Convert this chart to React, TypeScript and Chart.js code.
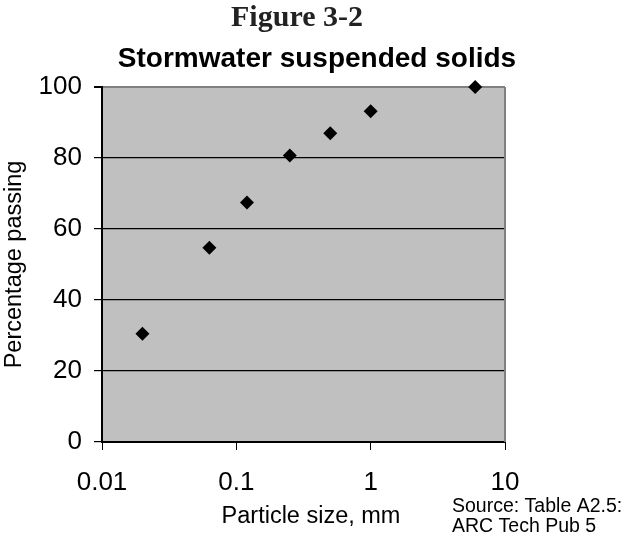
import React, { useEffect, useRef } from "react";
import { Chart, registerables } from "chart.js";

Chart.register(...registerables);

const figureLabel = "Figure 3-2";
const chartTitle = "Stormwater suspended solids";
const xAxisTitle = "Particle size, mm";
const yAxisTitle = "Percentage passing";
const sourceLines = ["Source: Table A2.5:", "ARC Tech Pub 5"];

const particleSizes = [0.02, 0.063, 0.12, 0.25, 0.5, 1, 6];
const percentPassing = [30.5, 54.7, 67.5, 80.7, 87, 93.2, 100];

const xTickValues = [0.01, 0.1, 1, 10];
const yTickValues = [0, 20, 40, 60, 80, 100];

const SANS = "'Liberation Sans', Arial, sans-serif";
const SERIF = "'Liberation Serif', 'Times New Roman', serif";

const decorPlugin = {
  id: "decor",
  beforeDraw(chart: any) {
    const { ctx, chartArea: a } = chart;
    ctx.save();
    ctx.fillStyle = "#ffffff";
    ctx.fillRect(0, 0, chart.width, chart.height);
    ctx.fillStyle = "#c0c0c0";
    ctx.fillRect(a.left, a.top, a.right - a.left, a.bottom - a.top);
    ctx.restore();
  },
  beforeDatasetsDraw(chart: any) {
    const { ctx, chartArea: a } = chart;
    ctx.save();
    ctx.strokeStyle = "#808080";
    ctx.lineWidth = 2;
    ctx.beginPath();
    ctx.moveTo(a.right, a.top);
    ctx.lineTo(a.right, a.bottom);
    ctx.stroke();
    ctx.restore();
  },
  afterDraw(chart: any) {
    const { ctx } = chart;
    ctx.save();
    ctx.fillStyle = "#222";
    ctx.textAlign = "center";
    ctx.textBaseline = "middle";
    ctx.font = `bold 30px ${SERIF}`;
    ctx.fillText(figureLabel, 297, 18);
    ctx.fillStyle = "#000";
    ctx.font = `bold 28px ${SANS}`;
    ctx.fillText(chartTitle, 317, 59);
    ctx.font = `23.5px ${SANS}`;
    ctx.fillText(xAxisTitle, 311, 517);
    ctx.font = `19.5px ${SANS}`;
    ctx.textAlign = "left";
    ctx.fillText(sourceLines[0], 452, 507);
    ctx.fillText(sourceLines[1], 452, 527);
    ctx.restore();
  },
};

export default function App() {
  const canvasRef = useRef<HTMLCanvasElement | null>(null);

  useEffect(() => {
    const canvas = canvasRef.current;
    if (!canvas) return;
    const chart = new Chart(canvas, {
      type: "scatter",
      data: {
        datasets: [
          {
            label: "Percentage passing",
            data: particleSizes.map((x, i) => ({ x, y: percentPassing[i] })),
            pointStyle: "rectRot",
            pointRadius: 7,
            pointBackgroundColor: "#000",
            pointBorderColor: "#000",
            pointBorderWidth: 0,
            showLine: false,
            clip: false as any,
          },
        ],
      },
      options: {
        animation: false,
        responsive: false,
        maintainAspectRatio: false,
        events: [],
        layout: { padding: { top: 87, right: 119, left: 0, bottom: 0 } },
        plugins: {
          legend: { display: false },
          tooltip: { enabled: false },
          title: { display: false },
        },
        scales: {
          x: {
            type: "logarithmic",
            min: 0.01,
            max: 10,
            afterBuildTicks(scale: any) {
              scale.ticks = xTickValues.map((v) => ({ value: v }));
            },
            afterFit(scale: any) {
              scale.height = 94;
            },
            ticks: {
              autoSkip: false,
              maxRotation: 0,
              color: "#000",
              padding: 17,
              font: { family: SANS, size: 26 },
              callback: (v: any) => String(v),
            },
            grid: {
              drawOnChartArea: false,
              drawTicks: true,
              tickLength: 8,
              color: "#000",
              tickColor: "#000",
            },
            border: { display: true, color: "#000", width: 2 },
            title: { display: false },
          },
          y: {
            type: "linear",
            min: 0,
            max: 100,
            afterBuildTicks(scale: any) {
              scale.ticks = yTickValues.map((v) => ({ value: v }));
            },
            afterFit(scale: any) {
              scale.width = 102;
            },
            ticks: {
              color: "#000",
              padding: 12,
              font: { family: SANS, size: 26 },
            },
            grid: {
              drawTicks: true,
              tickLength: 8,
              color: (c: any) => (c.tick && c.tick.value === 100 ? "#808080" : "#000"),
              lineWidth: (c: any) => (c.tick && c.tick.value === 100 ? 2 : 1.2),
              tickColor: "#000",
            },
            border: { display: true, color: "#000", width: 2 },
            title: {
              display: true,
              text: yAxisTitle,
              color: "#000",
              font: { family: SANS, size: 23.5 },
              padding: { top: 0, bottom: 0 },
            },
          },
        },
      },
      plugins: [decorPlugin],
    });
    return () => chart.destroy();
  }, []);

  return (
    <div style={{ position: "absolute", left: 0, top: 0, width: 624, height: 536 }}>
      <canvas ref={canvasRef} width={624} height={536} style={{ width: 624, height: 536 }} />
    </div>
  );
}
